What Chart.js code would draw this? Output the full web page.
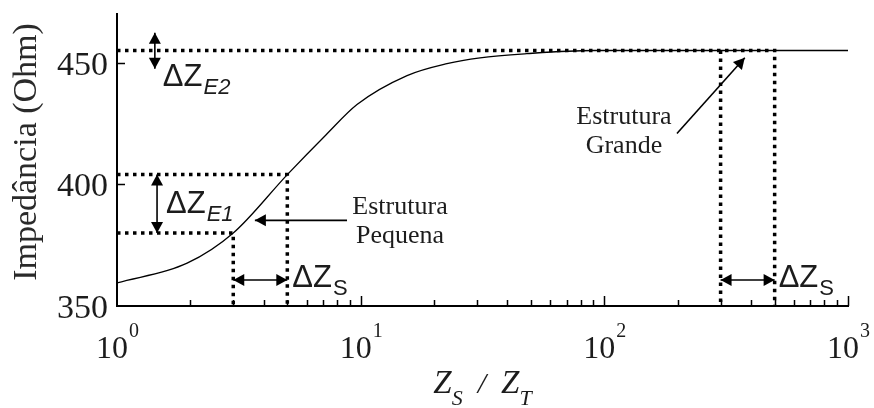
<!DOCTYPE html>
<html>
<head>
<meta charset="utf-8">
<script src="https://cdn.jsdelivr.net/npm/chart.js@4.4.1/dist/chart.umd.min.js"></script>
<style>
  html, body { margin: 0; padding: 0; background: #fff; }
  #wrap { width: 874px; height: 408px; }
</style>
</head>
<body>
<div id="wrap"><canvas id="impChart"></canvas></div>
<script>
// impedancia em funcao de Zs/Zt
const ratio = [1, 1.94, 3, 5, 7.2, 9.66, 15.5, 22.6, 30.9, 48.1, 90, 1000]
const impedance = [359.5, 367.6, 380, 404, 420.3, 432.8, 444.7, 449.6, 452, 453.7, 455, 455]

const smallStruct = [3, 5]       // faixa Zs/Zt da estrutura pequena
const largeStruct = [300, 500]   // faixa Zs/Zt da estrutura grande
const smallZ = [380, 404]        // limites de dZ_E1
const plateauZ = 455             // patamar superior

const xTicks = [1, 10, 100, 1000]
const xTickLabels = ['0', '1', '2', '3']
const yTicks = [350, 400, 450]

const serif = "'Liberation Serif', 'Times New Roman', serif"
const sans = "'Liberation Sans', Arial, sans-serif"
const ink = '#1c1c1c'

const toPoints = (xs, ys) => xs.map((x, i) => ({ x: x, y: ys[i] }))

// linhas pontilhadas de referencia
const guides = [
    toPoints([1, smallStruct[1], smallStruct[1]], [smallZ[1], smallZ[1], 350]),
    toPoints([1, smallStruct[0], smallStruct[0]], [smallZ[0], smallZ[0], 350]),
    toPoints([1, largeStruct[1], largeStruct[1]], [plateauZ, plateauZ, 350]),
    toPoints([largeStruct[0], largeStruct[0]], [plateauZ, 350])
]

const guideSets = guides.map(pts => ({
    data: pts,
    borderColor: '#000',
    borderWidth: 3.5,
    borderDash: [3.5, 4.5],
    borderCapStyle: 'butt',
    pointRadius: 0,
    tension: 0,
    clip: 4
}))

function head(ctx, fx, fy, tx, ty) {
    const a = Math.atan2(ty - fy, tx - fx), L = 11, W = 6
    ctx.beginPath()
    ctx.moveTo(tx, ty)
    ctx.lineTo(tx - L * Math.cos(a) + W * Math.sin(a), ty - L * Math.sin(a) - W * Math.cos(a))
    ctx.lineTo(tx - L * Math.cos(a) - W * Math.sin(a), ty - L * Math.sin(a) + W * Math.cos(a))
    ctx.closePath()
    ctx.fill()
}

function arrow(ctx, x1, y1, x2, y2, both) {
    ctx.beginPath()
    ctx.moveTo(x1, y1)
    ctx.lineTo(x2, y2)
    ctx.stroke()
    head(ctx, x1, y1, x2, y2)
    if (both) head(ctx, x2, y2, x1, y1)
}

// "ΔZ" com subscrito
function deltaLabel(ctx, sub, left, base, italicSub) {
    ctx.textAlign = 'left'
    ctx.textBaseline = 'alphabetic'
    ctx.font = '31px ' + sans
    ctx.fillText('ΔZ', left, base)
    const w = ctx.measureText('ΔZ').width
    ctx.font = (italicSub ? 'italic ' : '') + '22px ' + sans
    ctx.fillText(sub, left + w + 1, base + 8)
}

const decor = {
    id: 'decor',
    afterDraw(chart) {
        const ctx = chart.ctx
        const xs = chart.scales.x, ys = chart.scales.y
        const area = chart.chartArea
        const X = v => xs.getPixelForValue(v)
        const Y = v => ys.getPixelForValue(v)

        ctx.save()
        ctx.strokeStyle = '#000'
        ctx.fillStyle = '#000'
        ctx.lineWidth = 1.5

        // marcas dos eixos, para dentro
        ctx.beginPath()
        for (let d = 1; d < 1000; d *= 10) {
            for (let k = 2; k <= 10; k++) {
                const px = Math.round(X(k * d)) + 0.5
                const len = k === 10 ? 10 : 6
                ctx.moveTo(px, area.bottom)
                ctx.lineTo(px, area.bottom - len)
            }
        }
        yTicks.slice(1).forEach(v => {
            const py = Math.round(Y(v)) + 0.5
            ctx.moveTo(area.left, py)
            ctx.lineTo(area.left + 8, py)
        })
        ctx.stroke()

        // rotulos do eixo y
        ctx.fillStyle = ink
        ctx.font = '34px ' + serif
        ctx.textAlign = 'right'
        ctx.textBaseline = 'alphabetic'
        yTicks.forEach(v => ctx.fillText(String(v), area.left - 9, Y(v) + 12))

        // rotulos do eixo x: 10^n
        xTicks.forEach((v, i) => {
            ctx.font = '32px ' + serif
            const wBase = ctx.measureText('10').width
            ctx.font = '20px ' + serif
            const wSup = ctx.measureText(xTickLabels[i]).width
            let cx = X(v) - 5
            const over = cx + wBase / 2 + 1 + wSup - (chart.width - 3)
            if (over > 0) cx -= over
            ctx.textAlign = 'center'
            ctx.font = '32px ' + serif
            ctx.fillText('10', cx, area.bottom + 52)
            ctx.textAlign = 'left'
            ctx.font = '20px ' + serif
            ctx.fillText(xTickLabels[i], cx + wBase / 2 + 1, area.bottom + 31)
        })

        // titulo do eixo x: Z_S / Z_T
        const parts = [
            { t: 'Z', f: 'italic 33px ' + serif, dy: 0 },
            { t: 'S', f: 'italic 22px ' + serif, dy: 12 },
            { t: '  /  ', f: 'italic 30px ' + serif, dy: 0 },
            { t: 'Z', f: 'italic 33px ' + serif, dy: 0 },
            { t: 'T', f: 'italic 22px ' + serif, dy: 12 }
        ]
        let total = 0
        parts.forEach(p => { ctx.font = p.f; p.w = ctx.measureText(p.t).width; total += p.w })
        let tx = (area.left + area.right) / 2 - total / 2
        ctx.textAlign = 'left'
        parts.forEach(p => {
            ctx.font = p.f
            ctx.fillText(p.t, tx, area.bottom + 87 + p.dy)
            tx += p.w
        })

        // titulo do eixo y
        ctx.save()
        ctx.translate(36, (area.top + area.bottom) / 2 - 8)
        ctx.rotate(-Math.PI / 2)
        ctx.textAlign = 'center'
        ctx.fillStyle = '#2a2a2a'
        ctx.font = '34px ' + serif
        ctx.fillText('Impedância (Ohm)', 0, 0)
        ctx.restore()

        // setas
        ctx.fillStyle = '#000'
        ctx.strokeStyle = '#000'
        ctx.lineWidth = 1.6
        const e2x = X(1.43)
        arrow(ctx, e2x, Y(462.3), e2x, Y(447.5), true)
        const e1x = X(1.46)
        arrow(ctx, e1x, Y(smallZ[1]), e1x, Y(smallZ[0]), true)
        const sy = Y(360.7)
        arrow(ctx, X(smallStruct[0]), sy, X(smallStruct[1]), sy, true)
        arrow(ctx, X(largeStruct[0]), sy, X(largeStruct[1]), sy, true)
        const py = Y(385.2)
        arrow(ctx, X(8.79), py, X(3.68), py, false)
        arrow(ctx, X(198.6), Y(420.9), X(377), Y(452), false)

        // rotulos dos deltas
        ctx.fillStyle = ink
        deltaLabel(ctx, 'E2', e2x + 8, Y(plateauZ) + 35, true)
        deltaLabel(ctx, 'E1', e1x + 9, (Y(smallZ[0]) + Y(smallZ[1])) / 2 + 9, true)
        deltaLabel(ctx, 'S', X(smallStruct[1]) + 5, sy + 7, false)
        deltaLabel(ctx, 'S', X(largeStruct[1]) + 4, sy + 7, false)

        // textos das estruturas
        ctx.font = '26px ' + serif
        ctx.textAlign = 'center'
        const pqx = X(8.79) + 53
        ctx.fillText('Estrutura', pqx, py - 6)
        ctx.fillText('Pequena', pqx, py + 23)
        const grx = X(198.6) - 53, gry = Y(420.9)
        ctx.fillText('Estrutura', grx, gry - 9)
        ctx.fillText('Grande', grx, gry + 20)

        ctx.restore()
    }
}

new Chart(document.getElementById('impChart'), {
    type: 'line',
    data: {
        datasets: [
            {
                data: toPoints(ratio, impedance),
                borderColor: '#000',
                borderWidth: 1.3,
                pointRadius: 0,
                cubicInterpolationMode: 'monotone'
            },
            ...guideSets
        ]
    },
    options: {
        responsive: true,
        maintainAspectRatio: false,
        animation: false,
        layout: {
            padding: { left: 117, right: 26, top: 14, bottom: 102 }
        },
        plugins: {
            legend: { display: false },
            tooltip: { enabled: false }
        },
        scales: {
            x: {
                type: 'logarithmic',
                min: 1,
                max: 1000,
                grid: { display: false, drawTicks: false },
                border: { color: '#000', width: 2 },
                ticks: { display: false }
            },
            y: {
                type: 'linear',
                min: 350,
                max: 470,
                grid: { display: false, drawTicks: false },
                border: { color: '#000', width: 2 },
                ticks: { display: false }
            }
        }
    },
    plugins: [decor]
})
</script>
</body>
</html>
